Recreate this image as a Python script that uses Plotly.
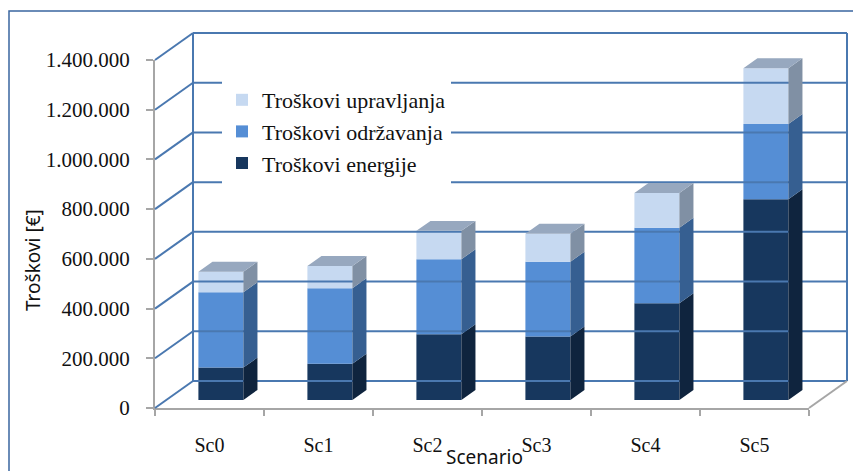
import plotly.graph_objects as go

# ---------------- data ----------------
scenarios = ["Sc0", "Sc1", "Sc2", "Sc3", "Sc4", "Sc5"]
energija = [130000, 145000, 264000, 255000, 389000, 807000]
odrzavanje = [303000, 304000, 302000, 301000, 304000, 303000]
upravljanje = [83000, 90000, 114000, 112000, 139000, 224000]
series_names = ["Troškovi energije", "Troškovi održavanja", "Troškovi upravljanja"]
y_tickvals = [0, 200000, 400000, 600000, 800000, 1000000, 1200000, 1400000]
y_ticktext = ["0", "200.000", "400.000", "600.000", "800.000", "1.000.000", "1.200.000", "1.400.000"]

# ---------------- geometry / style ----------------
W, H = 853, 471
PX_X0, PX_X1 = 155, 809          # front floor edge
PX_Y0, PX_Y1 = 408, 60           # value 0 and 1.4M on the front axis
YMAX = 1400000
ncat = len(scenarios)
cat_px = (PX_X1 - PX_X0) / ncat
vpp = YMAX / (PX_Y0 - PX_Y1)     # value per pixel
DX = 38 / cat_px                 # full depth offset (category units)
DY = 27 * vpp                    # full depth offset (value units)
FRONT_D = 0.30                   # depth of the bar front face
BAR_D = 0.37                     # bar depth
BAR_W = 45 / cat_px

front_cols = ["#17375E", "#558ED5", "#C6D9F1"]
side_cols = ["#0F243E", "#365F91", "#8090A4"]
top_col = "#97A8BF"
grid_col = "#4A78B0"
axis_gray = "#A6A6A6"
serif = "serif"
sans = "Noto Sans, Open Sans, sans-serif"

series = [energija, odrzavanje, upravljanje]

fig = go.Figure()

# dummy trace so that the front axes exist
fig.add_trace(go.Scatter(x=scenarios, y=[None] * ncat, xaxis="x", yaxis="y",
                         showlegend=False, hoverinfo="skip"))

# ---- walls (world axes x2/y2) ----
wx, wy = [], []
for v in y_tickvals:
    wx += [-0.5 + DX, ncat - 0.5 + DX, None]
    wy += [v + DY, v + DY, None]
    wx += [-0.5, -0.5 + DX, None]
    wy += [v, v + DY, None]
for xe in (-0.5 + DX, ncat - 0.5 + DX):
    wx += [xe, xe, None]
    wy += [DY, YMAX + DY, None]
fig.add_trace(go.Scatter(x=wx, y=wy, mode="lines", xaxis="x2", yaxis="y2",
                         line=dict(color=grid_col, width=2), showlegend=False,
                         hoverinfo="skip"))
fig.add_trace(go.Scatter(x=[ncat - 0.5, ncat - 0.5 + DX], y=[0, DY], mode="lines",
                         xaxis="x2", yaxis="y2", line=dict(color=axis_gray, width=2),
                         showlegend=False, hoverinfo="skip"))

# ---- bars ----
cum = [0] * ncat
xs = [i + FRONT_D * DX for i in range(ncat)]
for k, (vals, name) in enumerate(zip(series, series_names)):
    bases = [c + FRONT_D * DY for c in cum]
    fig.add_trace(go.Bar(x=xs, y=vals, base=bases, width=BAR_W, name=name,
                         marker=dict(color=front_cols[k], line=dict(width=0)),
                         xaxis="x2", yaxis="y2", hoverinfo="skip"))
    # side faces
    sx, sy = [], []
    for i in range(ncat):
        xr = xs[i] + BAR_W / 2
        b = bases[i]
        t = bases[i] + vals[i]
        sx += [xr, xr + BAR_D * DX, xr + BAR_D * DX, xr, xr, None]
        sy += [b, b + BAR_D * DY, t + BAR_D * DY, t, b, None]
    fig.add_trace(go.Scatter(x=sx, y=sy, mode="lines", fill="toself",
                             fillcolor=side_cols[k], line=dict(width=0, color=side_cols[k]),
                             xaxis="x2", yaxis="y2", showlegend=False, hoverinfo="skip"))
    cum = [c + v for c, v in zip(cum, vals)]

# top faces
tx, ty = [], []
for i in range(ncat):
    xl = xs[i] - BAR_W / 2
    xr = xs[i] + BAR_W / 2
    t = cum[i] + FRONT_D * DY
    tx += [xl, xr, xr + BAR_D * DX, xl + BAR_D * DX, xl, None]
    ty += [t, t, t + BAR_D * DY, t + BAR_D * DY, t, None]
fig.add_trace(go.Scatter(x=tx, y=ty, mode="lines", fill="toself", fillcolor=top_col,
                         line=dict(width=0, color=top_col), xaxis="x2", yaxis="y2",
                         showlegend=False, hoverinfo="skip"))

fig.update_layout(
    width=W, height=H, autosize=False,
    margin=dict(l=0, r=0, t=0, b=0, pad=0, autoexpand=False),
    paper_bgcolor="white", plot_bgcolor="rgba(0,0,0,0)",
    barmode="overlay",
    showlegend=True,
    legend=dict(x=222 / W, y=1 - 79 / H, xanchor="left", yanchor="top",
                bgcolor="white", traceorder="reversed",
                font=dict(family=serif, size=22, color="#111111"),
                itemclick=False),
    xaxis=dict(domain=[PX_X0 / W, PX_X1 / W], anchor="y", type="category",
               categoryorder="array", categoryarray=scenarios, range=[-0.5, ncat - 0.5],
               tickson="boundaries", ticks="outside", ticklen=6, tickcolor=axis_gray,
               tickwidth=2, showline=True, linecolor=axis_gray, linewidth=2,
               showgrid=False, zeroline=False, ticklabelstandoff=18, automargin=False,
               tickfont=dict(family=serif, size=20, color="#111111")),
    yaxis=dict(domain=[1 - PX_Y0 / H, 1 - PX_Y1 / H], anchor="x", range=[0, YMAX],
               tickvals=y_tickvals, ticktext=y_ticktext, ticks="outside", ticklen=7,
               tickcolor=axis_gray, tickwidth=2, showline=True, linecolor=axis_gray,
               linewidth=2, showgrid=False, zeroline=False, ticklabelstandoff=12,
               automargin=False,
               tickfont=dict(family=serif, size=21, color="#111111")),
    xaxis2=dict(domain=[0, 1], anchor="y2",
                range=[-0.5 - PX_X0 / cat_px, -0.5 + (W - PX_X0) / cat_px],
                visible=False, showgrid=False, zeroline=False),
    yaxis2=dict(domain=[0, 1], anchor="x2",
                range=[-(H - PX_Y0) * vpp, PX_Y0 * vpp],
                visible=False, showgrid=False, zeroline=False),
    annotations=[
        dict(text="Troškovi [€]", xref="paper", yref="paper", x=33 / W, y=1 - 260 / H,
             textangle=-90, showarrow=False, xanchor="center", yanchor="middle",
             font=dict(family=sans, size=19, color="#111111")),
        dict(text="Scenario", xref="paper", yref="paper", x=485 / W, y=1 - 457 / H,
             showarrow=False, xanchor="center", yanchor="middle",
             font=dict(family=sans, size=19, color="#111111")),
    ],
    shapes=[
        dict(type="rect", xref="paper", yref="paper", x0=9 / W, y0=1 - 11 / H,
             x1=1.1, y1=-0.1, line=dict(color="#3A65A0", width=1.5), layer="above"),
    ],
)

fig.write_html("out.html", config={"displayModeBar": False},
               post_script="document.body.style.margin='0';")
